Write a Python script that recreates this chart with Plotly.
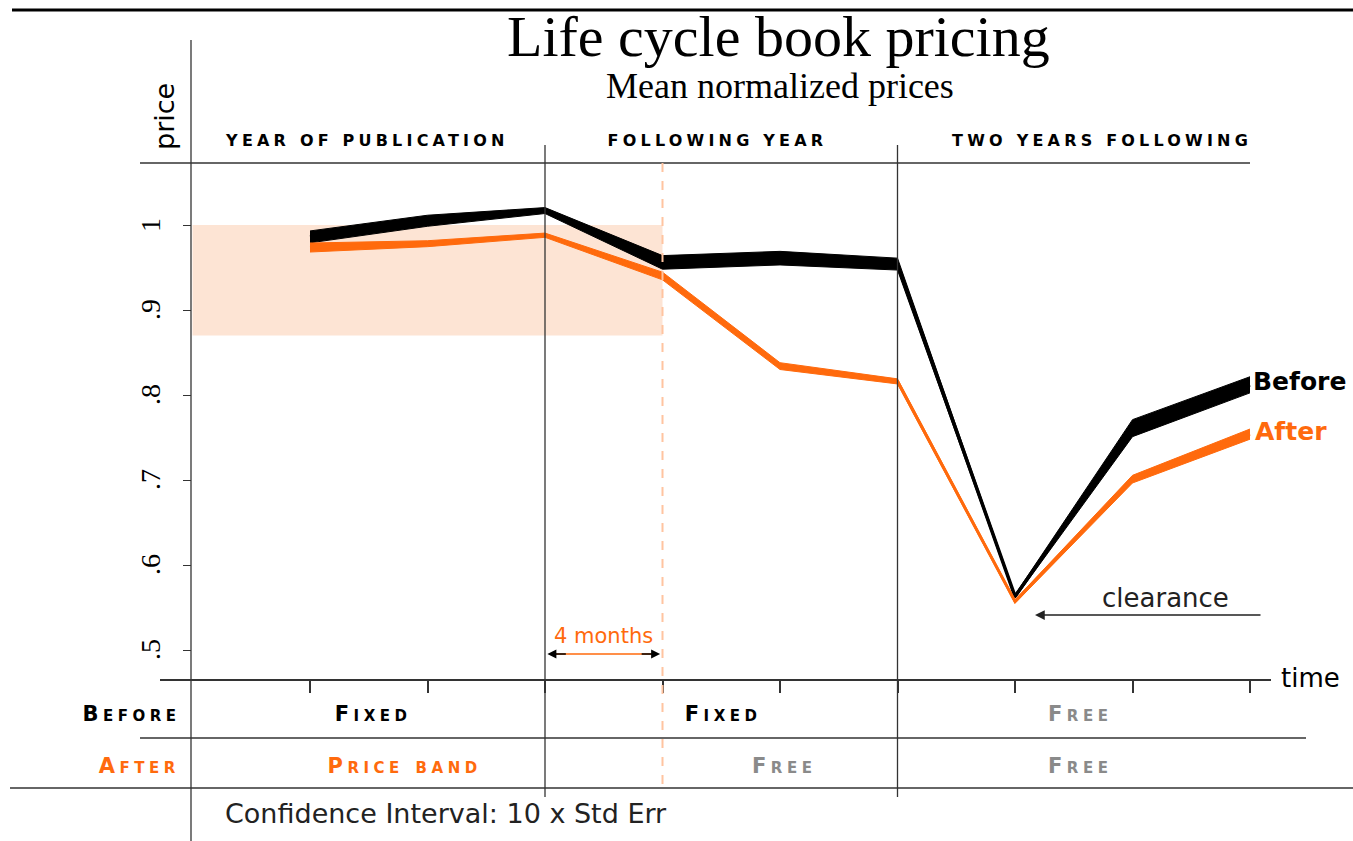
import json
import plotly.graph_objects as go

# ---------------- data ----------------
periods = [0, 1, 2, 3, 4, 5, 6, 7, 8]
before_mean = [0.986, 1.005, 1.017, 0.956, 0.961, 0.954, 0.563, 0.761, 0.812]
before_ci = [0.007, 0.0065, 0.0035, 0.008, 0.008, 0.007, 0.002, 0.010, 0.0095]
after_mean = [0.9735, 0.978, 0.988, 0.940, 0.834, 0.816, 0.557, 0.701, 0.754]
after_ci = [0.0053, 0.0035, 0.0025, 0.0045, 0.004, 0.003, 0.002, 0.0045, 0.006]
y_ticks = [0.5, 0.6, 0.7, 0.8, 0.9, 1.0]
y_ticklabels = [".5", ".6", ".7", ".8", ".9", "1"]
band_low, band_high = 0.87, 1.0
sections = ["YEAR OF PUBLICATION", "FOLLOWING YEAR", "TWO YEARS FOLLOWING"]
regime_before = ["Fixed", "Fixed", "Free"]
regime_after = ["Price band", "Free", "Free"]

ORANGE = "#FF6A0D"
PEACH = "#FDE4D4"
GRAY = "#8A8A8A"

W, H = 1353, 841
X0PX, DX = 310.0, 117.5          # pixel of period 0, pixels per period
Y1PX, DY = 225.0, 850.0          # pixel of value 1.0, pixels per unit


def px(x):
    return x / W


def py(y):
    return 1 - y / H


fig = go.Figure()

# confidence bands + centre lines
for mean, ci, col, lw in [(before_mean, before_ci, "black", 3.5), (after_mean, after_ci, ORANGE, 3)]:
    up = [m + c for m, c in zip(mean, ci)]
    lo = [m - c for m, c in zip(mean, ci)]
    fig.add_trace(go.Scatter(x=periods, y=up, mode="lines", line=dict(color=col, width=1),
                             showlegend=False, hoverinfo="skip"))
    fig.add_trace(go.Scatter(x=periods, y=lo, mode="lines", line=dict(color=col, width=1),
                             fill="tonexty", fillcolor=col, showlegend=False, hoverinfo="skip"))
    fig.add_trace(go.Scatter(x=periods, y=mean, mode="lines", line=dict(color=col, width=lw),
                             showlegend=False, hoverinfo="skip"))

shapes = []
shapes.append(dict(type="rect", xref="x", yref="y", x0=-1.0, x1=3, y0=band_low, y1=band_high,
                   fillcolor=PEACH, line=dict(width=0), layer="below"))
shapes.append(dict(type="line", xref="paper", yref="paper", x0=px(12), x1=px(1353), y0=py(10), y1=py(10),
                   line=dict(color="black", width=3)))
shapes.append(dict(type="line", xref="paper", yref="paper", x0=px(191), x1=px(191), y0=py(40), y1=py(841),
                   line=dict(color="#333", width=1.3)))
shapes.append(dict(type="line", xref="paper", yref="paper", x0=px(140), x1=px(1250), y0=py(163), y1=py(163),
                   line=dict(color="#333", width=1.3)))
shapes.append(dict(type="line", xref="paper", yref="paper", x0=px(160), x1=px(1271), y0=py(680), y1=py(680),
                   line=dict(color="#333", width=2)))
shapes.append(dict(type="line", xref="paper", yref="paper", x0=px(140), x1=px(1306), y0=py(738), y1=py(738),
                   line=dict(color="#333", width=1.3)))
shapes.append(dict(type="line", xref="paper", yref="paper", x0=px(10), x1=px(1353), y0=py(788), y1=py(788),
                   line=dict(color="#333", width=1.3)))
for xv in (2, 5):
    shapes.append(dict(type="line", xref="x", yref="paper", x0=xv, x1=xv, y0=py(145), y1=py(797),
                       line=dict(color="#333", width=1.3)))
shapes.append(dict(type="line", xref="x", yref="paper", x0=3, x1=3, y0=py(163), y1=py(788),
                   line=dict(color="#FFC4A0", width=2, dash="dash")))
shapes.append(dict(type="line", xref="x", yref="paper", x0=2.05, x1=2.95, y0=py(654), y1=py(654),
                   line=dict(color=ORANGE, width=1.3)))

ann = []


def label(text, x, y, size, color="black", family="DejaVu Sans", xref="paper", yref="paper", **kw):
    font = dict(family=family, size=size, color=color)
    for k in ("weight", "variant"):
        if k in kw:
            font[k] = kw.pop(k)
    d = dict(text=text, x=x, y=y, xref=xref, yref=yref, showarrow=False, font=font,
             xanchor=kw.pop("xanchor", "center"), yanchor=kw.pop("yanchor", "middle"))
    d.update(kw)
    ann.append(d)


label("Life cycle book pricing", px(778), py(36), 58, family="Liberation Serif")
label("Mean normalized prices", px(780), py(86), 36, family="Liberation Serif")
label("price", px(165), py(117), 27, textangle=-90)
for t, xc in zip(sections, [367, 717, 1102]):
    label(t, px(xc), py(140), 16, weight="bold")
for v, lab in zip(y_ticks, y_ticklabels):
    label(lab, px(150), v, 28, family="Liberation Serif", yref="y", textangle=-90)
label("time", px(1310), py(678), 26)
label("Before", px(131), py(714), 21, weight="bold", variant="small-caps")
label("After", px(139), py(766), 21, color=ORANGE, weight="bold", variant="small-caps")
for t, xc in zip(regime_before, [373, 723, 1080]):
    label(t, px(xc), py(714), 21, color=GRAY if t == "Free" else "black", weight="bold", variant="small-caps")
for t, xc in zip(regime_after, [404, 784, 1080]):
    label(t, px(xc), py(766), 21, color=GRAY if t == "Free" else ORANGE, weight="bold", variant="small-caps")
label("Confidence Interval: 10 x Std Err", px(223), py(813), 27, color="#222", xanchor="left")
label("4 months", 2.5, py(636), 21, color=ORANGE, xref="x")
for xh, off in [(2.02, 20), (2.98, -20)]:
    ann.append(dict(text="", x=xh, y=py(654), xref="x", yref="paper", ax=off, ay=0, axref="pixel", ayref="pixel",
                    showarrow=True, arrowhead=2, arrowsize=1.2, arrowwidth=1.5, arrowcolor="black"))
label("clearance", px(1165), py(598), 26, color="#222")
ann.append(dict(text="", x=px(1035), y=py(615), xref="paper", yref="paper", ax=227, ay=0,
                axref="pixel", ayref="pixel", showarrow=True, arrowhead=2, arrowsize=1.3, arrowwidth=1.5,
                arrowcolor="#222"))
label("Before", 8, before_mean[-1] + 0.004, 25, xref="x", yref="y", xanchor="left", xshift=1, weight="bold")
label("After", 8, after_mean[-1] + 0.003, 25, color=ORANGE, xref="x", yref="y", xanchor="left", xshift=3,
      weight="bold")

fig.update_layout(
    width=W, height=H, margin=dict(l=0, r=0, t=0, b=0),
    paper_bgcolor="white", plot_bgcolor="white",
    shapes=shapes, annotations=ann,
    xaxis=dict(range=[-X0PX / DX, (W - X0PX) / DX], showgrid=False, zeroline=False,
               tickvals=periods, ticks="outside", ticklen=12, tickwidth=1.5, tickcolor="#333",
               showticklabels=False, anchor="free", position=py(680), showline=False),
    yaxis=dict(range=[1 - (H - Y1PX) / DY, 1 + Y1PX / DY], showgrid=False, zeroline=False,
               tickvals=y_ticks, ticks="outside", ticklen=8, tickwidth=1.3, tickcolor="#333",
               showticklabels=False, anchor="free", position=px(191), showline=False),
    showlegend=False,
)

# wide letter spacing for the engraved-style captions
spacing = {t: "4.2px" for t in sections}
spacing.update({t: "4.5px" for t in ["Before", "After", "Fixed", "Free", "Price band"]})
js = ("document.body.style.margin='0';document.body.style.overflow='hidden';"
      "var sp=%s;" % json.dumps(spacing) +
      "document.querySelectorAll('text.annotation-text').forEach(function(t){"
      "var s=t.textContent; if(sp[s] && t.style.fontVariant.indexOf('small-caps')>=0 || sp[s] && s===s.toUpperCase()){"
      "t.style.letterSpacing=sp[s];}});")
fig.write_html("out.html", post_script=js, config={"displayModeBar": False})
